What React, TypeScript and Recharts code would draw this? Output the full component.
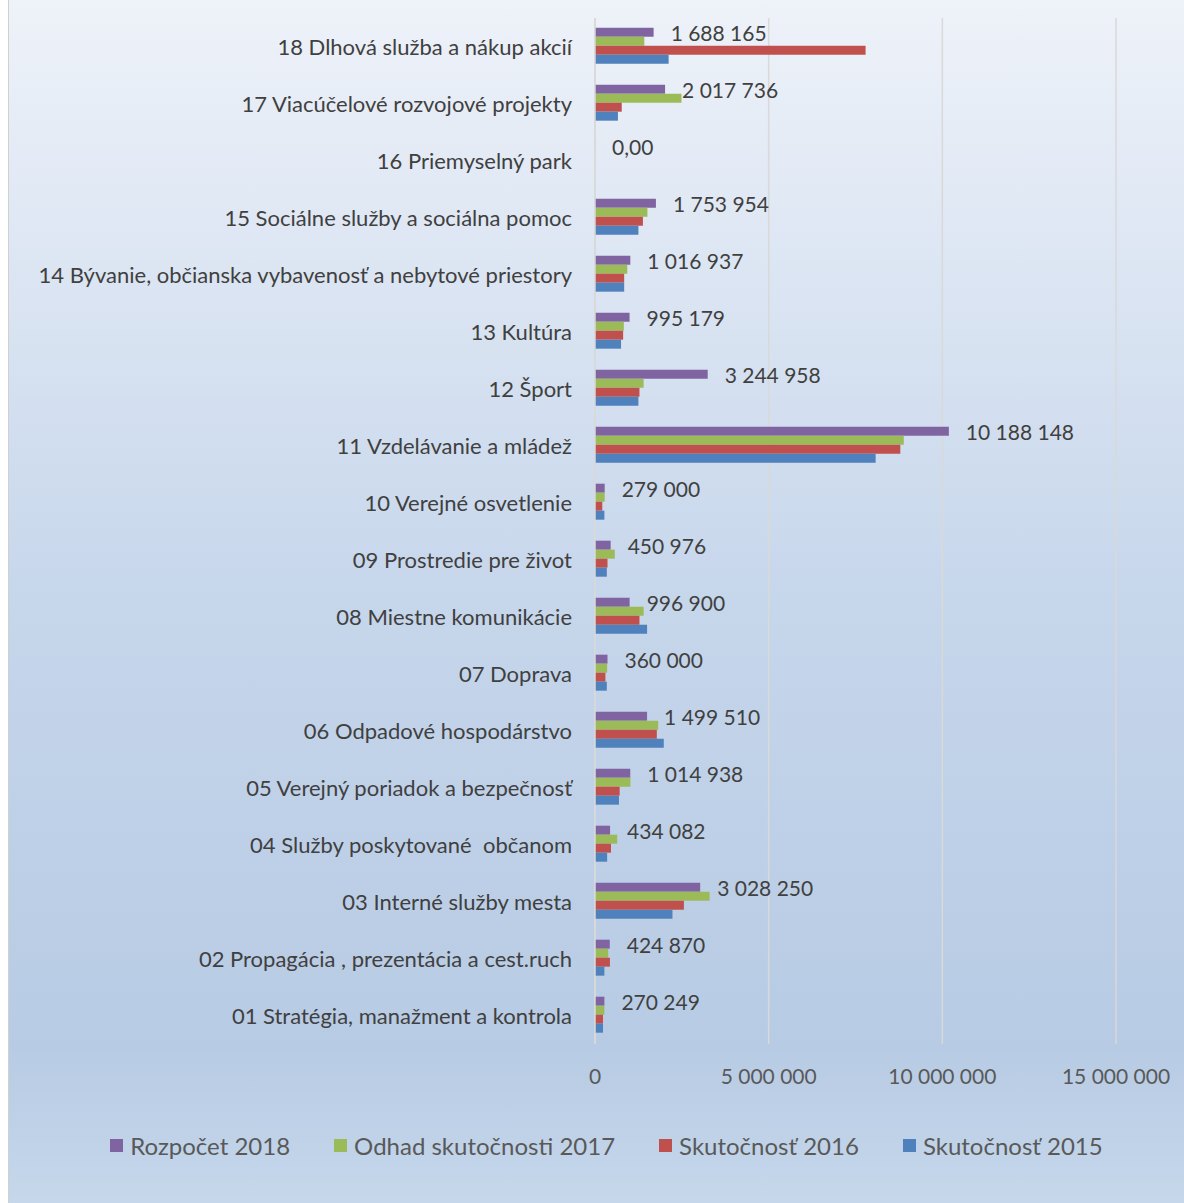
import React from 'react';
import { BarChart, Bar, XAxis, YAxis, CartesianGrid, Legend, LabelList } from 'recharts';

const categories = [
  '18 Dlhová služba a nákup akcií',
  '17 Viacúčelové rozvojové projekty',
  '16 Priemyselný park',
  '15 Sociálne služby a sociálna pomoc',
  '14 Bývanie, občianska vybavenosť a nebytové priestory',
  '13 Kultúra',
  '12 Šport',
  '11 Vzdelávanie a mládež',
  '10 Verejné osvetlenie',
  '09 Prostredie pre život',
  '08 Miestne komunikácie',
  '07 Doprava',
  '06 Odpadové hospodárstvo',
  '05 Verejný poriadok a bezpečnosť',
  '04 Služby poskytované  občanom',
  '03 Interné služby mesta',
  '02 Propagácia , prezentácia a cest.ruch',
  '01 Stratégia, manažment a kontrola',
];

const rozpocet2018 = [1688165, 2017736, 0, 1753954, 1016937, 995179, 3244958, 10188148, 279000, 450976, 996900, 360000, 1499510, 1014938, 434082, 3028250, 424870, 270249];
const odhad2017 = [1420000, 2490000, 0, 1510000, 930000, 830000, 1400000, 8890000, 280000, 570000, 1400000, 350000, 1820000, 1020000, 640000, 3300000, 380000, 270000];
const skutocnost2016 = [7790000, 770000, 0, 1380000, 840000, 810000, 1280000, 8790000, 210000, 360000, 1280000, 300000, 1780000, 710000, 460000, 2560000, 430000, 230000];
const skutocnost2015 = [2120000, 660000, 0, 1250000, 840000, 750000, 1250000, 8080000, 270000, 340000, 1500000, 340000, 1980000, 690000, 350000, 2230000, 270000, 230000];

const xTicks = [0, 5000000, 10000000, 15000000];

const seriesNames = ['Rozpočet 2018', 'Odhad skutočnosti 2017', 'Skutočnosť 2016', 'Skutočnosť 2015'];
const seriesKeys = ['r2018', 'o2017', 's2016', 's2015'];
const seriesColors = ['#8064a2', '#9bbb59', '#c0504d', '#4f81bd'];

const data = categories.map((c, i) => ({
  name: c,
  r2018: rozpocet2018[i],
  o2017: odhad2017[i],
  s2016: skutocnost2016[i],
  s2015: skutocnost2015[i],
}));

const FONT = 'Lato, "Open Sans", sans-serif';

const fmt = (v: number) => String(v).replace(/\B(?=(\d{3})+(?!\d))/g, ' ');
const fmtLabel = (v: number) => (v === 0 ? '0,00' : fmt(v));

const ValueLabel = (props: any) => {
  const { x, y, width, height, value } = props;
  return (
    <text
      x={Number(x) + Number(width) + 17}
      y={Number(y) + Number(height) / 2}
      textAnchor="start"
      dominantBaseline="central"
      fill="#404040"
      fontSize={21}
      fontFamily={FONT}
    >
      {fmtLabel(Number(value))}
    </text>
  );
};

const CatTick = (props: any) => {
  const { x, y, payload } = props;
  return (
    <text
      x={x}
      y={y}
      textAnchor="end"
      dominantBaseline="central"
      fill="#404040"
      fontSize={22}
      fontFamily={FONT}
      style={{ whiteSpace: 'pre' }}
    >
      {payload.value}
    </text>
  );
};

const renderLegend = () => (
  <div
    style={{
      display: 'flex',
      justifyContent: 'center',
      alignItems: 'center',
      gap: 44,
      paddingLeft: 88,
      fontFamily: FONT,
      fontSize: 24,
      color: '#595959',
      height: 36,
    }}
  >
    {seriesNames.map((n, i) => (
      <div key={n} style={{ display: 'flex', alignItems: 'center' }}>
        <span style={{ display: 'inline-block', width: 13, height: 13, background: seriesColors[i], marginRight: 7 }} />
        <span>{n}</span>
      </div>
    ))}
  </div>
);

export default function App() {
  return (
    <div
      style={{
        position: 'absolute',
        left: 8,
        top: 0,
        width: 1176,
        height: 1203,
        borderLeft: '1px solid #d0d0d0',
        background: 'linear-gradient(180deg, #eef2f9 0%, #c6d6eb 50%, #b7cbe4 87%, #c6d7eb 100%)',
        overflow: 'hidden',
      }}
    >
      <BarChart
        width={1175}
        height={1203}
        data={data}
        layout="vertical"
        margin={{ top: 18, right: 68, bottom: 40, left: 0 }}
        barCategoryGap="17%"
        barGap={0}
      >
        <CartesianGrid horizontal={false} vertical={true} stroke="#d9d9d9" strokeWidth={1.5} />
        <XAxis
          type="number"
          domain={[0, 15000000]}
          ticks={xTicks}
          tickFormatter={(v: number) => fmt(v)}
          axisLine={false}
          tickLine={false}
          tickSize={0}
          tickMargin={25}
          height={83}
          tick={{ fill: '#595959', fontSize: 21, fontFamily: FONT }}
          interval={0}
        />
        <YAxis
          type="category"
          dataKey="name"
          width={586}
          axisLine={{ stroke: '#d9d9d9', strokeWidth: 1.5 }}
          tickLine={false}
          tickSize={0}
          tickMargin={23}
          tick={<CatTick />}
          interval={0}
        />
        <Legend verticalAlign="bottom" height={36} content={renderLegend} />
        {seriesKeys.map((k, i) => (
          <Bar
            key={k}
            dataKey={k}
            name={seriesNames[i]}
            fill={seriesColors[i]}
            isAnimationActive={false}
            minPointSize={i === 0 ? 0.1 : 0}
          >
            {i === 0 ? <LabelList dataKey={k} content={<ValueLabel />} /> : null}
          </Bar>
        ))}
      </BarChart>
    </div>
  );
}
